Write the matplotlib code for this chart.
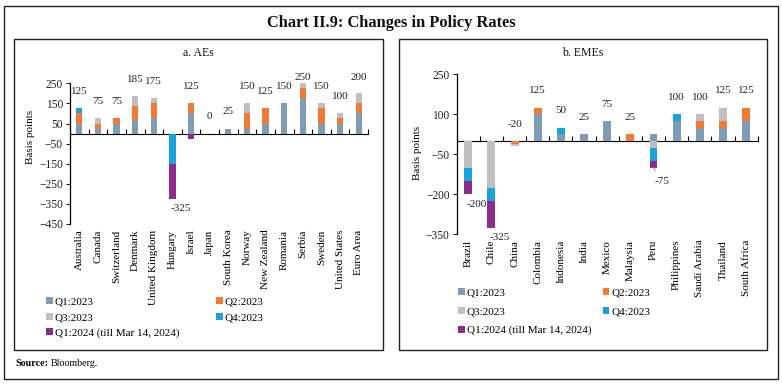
import matplotlib
matplotlib.use("Agg")
import matplotlib.pyplot as plt
import numpy as np
from matplotlib.patches import Rectangle

plt.rcParams['font.family'] = ['Liberation Serif', 'DejaVu Serif']

series_names = ["Q1:2023", "Q2:2023", "Q3:2023", "Q4:2023", "Q1:2024 (till Mar 14, 2024)"]
colors = ["#7F9CB5", "#F07A36", "#BFBFBF", "#1AA3D9", "#8E2C8E"]

ae_countries = ["Australia", "Canada", "Switzerland", "Denmark", "United Kingdom", "Hungary",
                "Israel", "Japan", "South Korea", "Norway", "New Zealand", "Romania",
                "Serbia", "Sweden", "United States", "Euro Area"]
ae_q1_2023 = [50, 25, 50, 65, 75, 0, 100, 0, 25, 25, 50, 150, 175, 50, 50, 100]
ae_q2_2023 = [50, 25, 25, 70, 75, 0, 50, 0, 0, 75, 75, 0, 50, 75, 25, 50]
ae_q3_2023 = [0, 25, 0, 50, 25, 0, 0, 0, 0, 50, 0, 0, 25, 25, 25, 50]
ae_q4_2023 = [25, 0, 0, 0, 0, -150, 0, 0, 0, 0, 0, 0, 0, 0, 0, 0]
ae_q1_2024 = [0, 0, 0, 0, 0, -175, -25, 0, 0, 0, 0, 0, 0, 0, 0, 0]

eme_countries = ["Brazil", "Chile", "China", "Colombia", "Indonesia", "India", "Mexico",
                 "Malaysia", "Peru", "Philippines", "Saudi Arabia", "Thailand", "South Africa"]
eme_q1_2023 = [0, 0, 0, 100, 25, 25, 75, 0, 25, 75, 50, 50, 75]
eme_q2_2023 = [0, 0, -10, 25, 0, 0, 0, 25, 0, 0, 25, 25, 50]
eme_q3_2023 = [-100, -175, -10, 0, 0, 0, 0, 0, -25, 0, 25, 50, 0]
eme_q4_2023 = [-50, -50, 0, 0, 25, 0, 0, 0, -50, 25, 0, 0, 0]
eme_q1_2024 = [-50, -100, 0, 0, 0, 0, 0, 0, -25, 0, 0, 0, 0]

ae_ticks = [250, 150, 50, -50, -150, -250, -350, -450]
eme_ticks = [250, 100, -50, -200, -350]

W, H = 782, 384
fig = plt.figure(figsize=(W / 100, H / 100), dpi=100)


def fx(px):
    return px / W


def fy(py):
    return 1 - py / H


# outer frame and panel boxes
fig.patches.append(Rectangle((fx(4), fy(379)), fx(774), 373 / H, transform=fig.transFigure,
                             fill=False, edgecolor="#222222", linewidth=1.0))
for x0, x1 in [(14, 383), (399, 767)]:
    fig.patches.append(Rectangle((fx(x0), fy(350)), fx(x1 - x0), 311 / H, transform=fig.transFigure,
                                 fill=False, edgecolor="#222222", linewidth=1.0))

fig.text(0.5, fy(23), "Chart II.9: Changes in Policy Rates", ha="center", va="center",
         fontsize=11.8, fontweight="bold", color="#111111")
fig.text(fx(198), fy(53), "a. AEs", ha="center", va="center", fontsize=8.5, color="#111111")
fig.text(fx(583), fy(53), "b. EMEs", ha="center", va="center", fontsize=8.5, color="#111111")
fig.text(fx(15), fy(364), "Source:", ha="left", va="center", fontsize=7.2, fontweight="bold")
fig.text(fx(51), fy(364), "Bloomberg.", ha="left", va="center", fontsize=7.2)


def draw_panel(rect, cats, series, ticks, ylim, zero_frac, label_pos, leg_anchor, colsp, lsp,
               neg_line_idx=None):
    ax = fig.add_axes(rect)
    n = len(cats)
    x = np.arange(n)
    pos_base = np.zeros(n)
    neg_base = np.zeros(n)
    handles = []
    for vals, c, name in zip(series, colors, series_names):
        v = np.array(vals, dtype=float)
        pos = np.where(v > 0, v, 0)
        neg = np.where(v < 0, v, 0)
        h = ax.bar(x, pos, 0.34, bottom=pos_base, color=c, label=name, linewidth=0)
        ax.bar(x, neg, 0.34, bottom=neg_base, color=c, linewidth=0)
        pos_base += pos
        neg_base += neg
        handles.append(h)
    totals = pos_base + neg_base
    ax_h_px = rect[3] * H
    px_per_unit = ax_h_px / (ylim[1] - ylim[0])
    for i in range(n):
        t = int(round(totals[i]))
        if t > -50:
            yv = pos_base[i]
            off = min(12.0, (ylim[1] - yv) * px_per_unit * 0.72 + 4.3)
            ax.annotate(str(t), (x[i], yv), xytext=(0, off), textcoords="offset points",
                        ha="center", va="center", fontsize=8, color="#222222",
                        annotation_clip=False)
        else:
            yv = neg_base[i]
            if neg_line_idx is not None and i == neg_line_idx:
                ax.annotate(str(t), (x[i], yv), xytext=(6, -10), textcoords="offset points",
                            ha="center", va="center", fontsize=8, color="#222222",
                            arrowprops=dict(arrowstyle="-", color="#A0A0A0", lw=0.8,
                                            shrinkA=3, shrinkB=0),
                            annotation_clip=False)
            else:
                ax.annotate(str(t), (x[i], yv), xytext=(6, -7), textcoords="offset points",
                            ha="center", va="center", fontsize=8, color="#222222",
                            annotation_clip=False)
    ax.set_xlim(-0.5, n - 0.5)
    ax.set_ylim(*ylim)
    ax.set_yticks(ticks)
    ax.tick_params(axis="y", labelsize=8.3, length=3, width=0.8, pad=2, colors="#222222")
    ax.set_xticks(x)
    ax.set_xticklabels(cats, rotation=90, fontsize=8)
    ax.tick_params(axis="x", length=0, pad=4)
    for s in ["top", "right", "bottom"]:
        ax.spines[s].set_visible(False)
    ax.spines["left"].set_linewidth(0.9)
    ax.set_ylabel("Basis points", fontsize=8)
    ax.yaxis.set_label_coords(*label_pos)
    sec = ax.secondary_xaxis(zero_frac)
    sec.set_xticks(np.arange(n + 1) - 0.5)
    sec.set_xticklabels([])
    sec.tick_params(length=3.5, width=0.8, direction="out")
    sec.spines["bottom"].set_linewidth(0.9)
    order = [0, 2, 4, 1, 3]
    ax.legend([handles[k] for k in order], [series_names[k] for k in order], ncol=2,
              loc="upper left", bbox_to_anchor=leg_anchor, bbox_transform=fig.transFigure,
              frameon=False, fontsize=8, handlelength=0.6, handleheight=0.6,
              handletextpad=0.2, columnspacing=colsp, labelspacing=lsp, borderaxespad=0,
              borderpad=0)
    return ax


draw_panel([fx(70), fy(224), fx(298), 140.7 / H], ae_countries,
           [ae_q1_2023, ae_q2_2023, ae_q3_2023, ae_q4_2023, ae_q1_2024],
           ae_ticks, (-450, 250), 450 / 700, (-0.117, 0.62), (fx(46), fy(297)), 3.3, 0.55)

draw_panel([fx(456.7), fy(234.3), fx(301), 160 / H], eme_countries,
           [eme_q1_2023, eme_q2_2023, eme_q3_2023, eme_q4_2023, eme_q1_2024],
           eme_ticks, (-350, 250), 350 / 600, (-0.116, 0.51), (fx(458), fy(288)), 1.0, 0.85,
           neg_line_idx=8)

fig.savefig("out.png", dpi=100)
